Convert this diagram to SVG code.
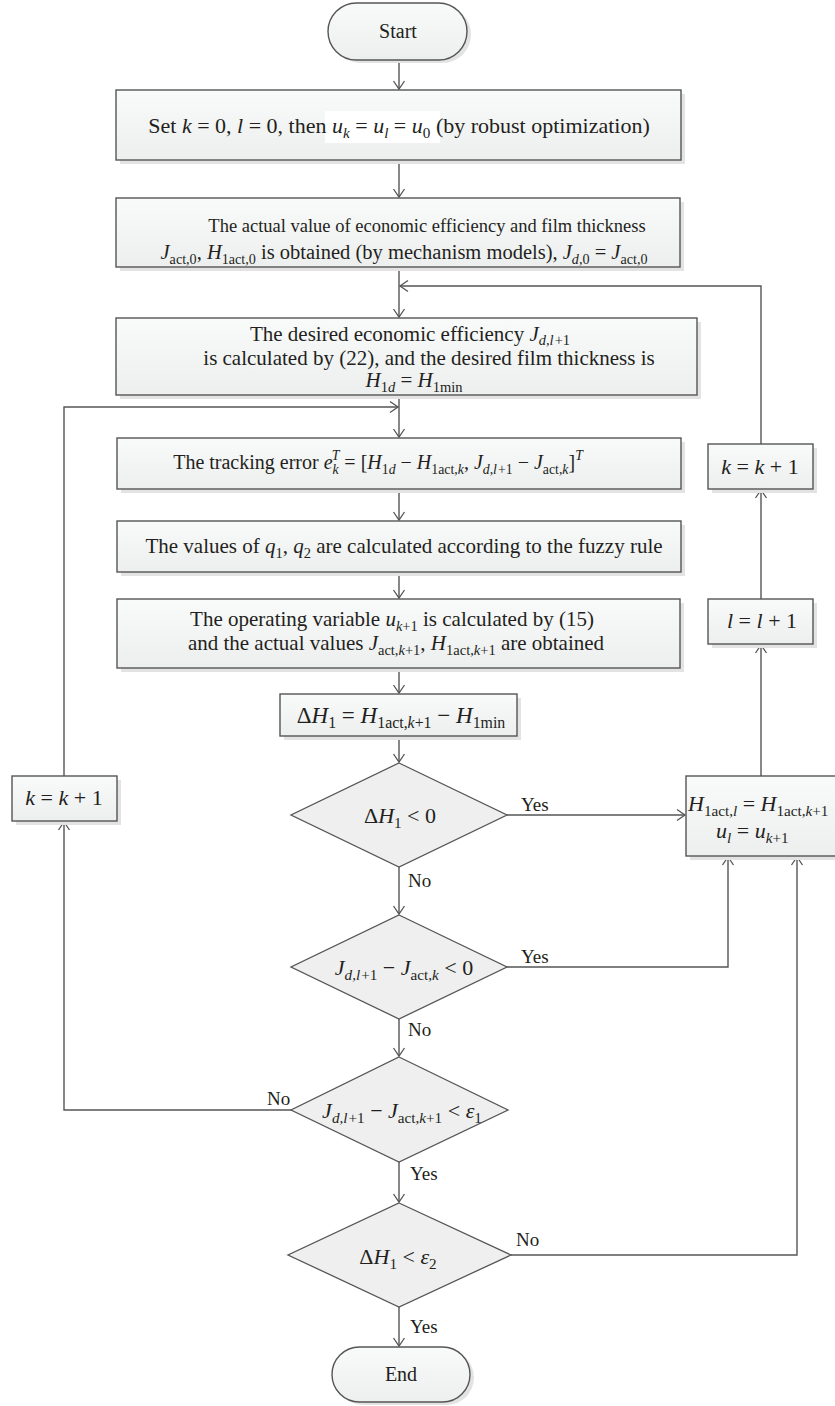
<svg xmlns="http://www.w3.org/2000/svg" width="835" height="1406" viewBox="0 0 835 1406">
<defs>
<linearGradient id="g" x1="0" y1="0" x2="0" y2="1">
<stop offset="0" stop-color="#f9fafa"/>
<stop offset="1" stop-color="#edefef"/>
</linearGradient>
<marker id="arr" markerWidth="12" markerHeight="14" refX="10" refY="7" orient="auto" markerUnits="userSpaceOnUse">
<path d="M2,1.5 L10,7 L2,12.5" fill="none" stroke="#555" stroke-width="1.3"/>
</marker>
</defs>
<style>
.box{fill:url(#g);stroke:#555;stroke-width:1.4}
.sh{fill:#e3e3e3}
.dia{fill:#efefef;stroke:#555;stroke-width:1.3}
.ln{fill:none;stroke:#555;stroke-width:1.4}
.t{font-family:"Liberation Serif",serif;font-size:18px;fill:#231f20}
.lb{font-size:19px}
.f185{font-size:18.5px}
.f20{font-size:20px}
.f205{font-size:20.5px}
.f21{font-size:21px}
.f22{font-size:22px}
.f23{font-size:23px}
.te{font-family:"Liberation Serif",serif;font-size:20px;fill:#231f20}
.i{font-style:italic}
.s{font-size:0.69em}
</style>
<rect width="835" height="1406" fill="#fff"/>

<g id="connectors">
<path class="ln" d="M399,60 V89" marker-end="url(#arr)"/>
<path class="ln" d="M399,160 V197" marker-end="url(#arr)"/>
<path class="ln" d="M399,267 V317" marker-end="url(#arr)"/>
<path class="ln" d="M761,444 V286 H400" marker-end="url(#arr)"/>
<path class="ln" d="M399,395 V437" marker-end="url(#arr)"/>
<path class="ln" d="M64,776 V407 H398" marker-end="url(#arr)"/>
<path class="ln" d="M399,489 V520" marker-end="url(#arr)"/>
<path class="ln" d="M399,572 V598" marker-end="url(#arr)"/>
<path class="ln" d="M399,668 V693" marker-end="url(#arr)"/>
<path class="ln" d="M399,736 V762" marker-end="url(#arr)"/>
<path class="ln" d="M507,815 H685" marker-end="url(#arr)"/>
<path class="ln" d="M399,867 V914" marker-end="url(#arr)"/>
<path class="ln" d="M507,967 H728 V857" marker-end="url(#arr)"/>
<path class="ln" d="M399,1019 V1056" marker-end="url(#arr)"/>
<path class="ln" d="M291,1110 H64 V822" marker-end="url(#arr)"/>
<path class="ln" d="M399,1162 V1202" marker-end="url(#arr)"/>
<path class="ln" d="M511,1255 H797 V857" marker-end="url(#arr)"/>
<path class="ln" d="M399,1307 V1346" marker-end="url(#arr)"/>
<path class="ln" d="M761,776 V645" marker-end="url(#arr)"/>
<path class="ln" d="M761,599 V490" marker-end="url(#arr)"/>
<text class="t lb" x="521" y="811">Yes</text>
<text class="t lb" x="408" y="887">No</text>
<text class="t lb" x="521" y="963">Yes</text>
<text class="t lb" x="408" y="1036">No</text>
<text class="t lb" x="267" y="1105">No</text>
<text class="t lb" x="410" y="1180">Yes</text>
<text class="t lb" x="516" y="1246">No</text>
<text class="t lb" x="410" y="1333">Yes</text>
</g>

<g id="start">
<rect class="sh" x="332" y="6" width="139" height="57" rx="28.5"/>
<rect class="box" x="328" y="3" width="139" height="57" rx="28.5"/>
<text class="te" x="398" y="38" text-anchor="middle">Start</text>
</g>

<g id="init">
<rect class="sh" x="120" y="94" width="565" height="70"/>
<rect class="box" x="116" y="90" width="565" height="70"/>
<rect x="325" y="111" width="115" height="32" fill="#fff"/>
<text class="t f22" x="399" y="133" text-anchor="middle">Set <tspan class="i">k</tspan> = 0, <tspan class="i">l</tspan> = 0, then <tspan class="i">u</tspan><tspan class="s i" dy="5">k</tspan><tspan dy="-5"> = </tspan><tspan class="i">u</tspan><tspan class="s i" dy="5">l</tspan><tspan dy="-5"> = </tspan><tspan class="i">u</tspan><tspan class="s" dy="5">0</tspan><tspan dy="-5"> (by robust optimization)</tspan></text>
</g>

<g id="actual">
<rect class="sh" x="120" y="202" width="564" height="69"/>
<rect class="box" x="116" y="198" width="564" height="69"/>
<text class="t f185" x="427" y="232" text-anchor="middle">The actual value of economic efficiency and film thickness</text>
<text class="t f205" x="404" y="259" text-anchor="middle"><tspan class="i">J</tspan><tspan class="s" dy="5">act,0</tspan><tspan dy="-5">, </tspan><tspan class="i">H</tspan><tspan class="s" dy="5">1act,0</tspan><tspan dy="-5"> is obtained (by mechanism models), </tspan><tspan class="i">J</tspan><tspan class="s i" dy="5">d</tspan><tspan class="s">,0</tspan><tspan dy="-5"> = </tspan><tspan class="i">J</tspan><tspan class="s" dy="5">act,0</tspan></text>
</g>

<g id="desired">
<rect class="sh" x="120" y="322" width="581" height="77"/>
<rect class="box" x="116" y="318" width="581" height="77"/>
<text class="t f21" x="410" y="341" text-anchor="middle">The desired economic efficiency <tspan class="i">J</tspan><tspan class="s i" dy="4">d,l</tspan><tspan class="s" dx="1">+1</tspan></text>
<text class="t f21" x="429" y="365" text-anchor="middle">is calculated by (22), and the desired film thickness is</text>
<text class="t f21" x="414" y="387" text-anchor="middle"><tspan class="i">H</tspan><tspan class="s" dy="5">1</tspan><tspan class="s i">d</tspan><tspan dy="-5"> = </tspan><tspan class="i">H</tspan><tspan class="s" dy="5">1min</tspan></text>
</g>

<g id="tracking">
<rect class="sh" x="121" y="442" width="564" height="51"/>
<rect class="box" x="117" y="438" width="564" height="51"/>
<text class="t f20" x="378" y="469" text-anchor="middle">The tracking error <tspan class="i">e</tspan><tspan class="s i" dy="5">k</tspan><tspan class="s i" dx="-7" dy="-14">T</tspan><tspan dy="9"> = [</tspan><tspan class="i">H</tspan><tspan class="s" dy="5">1</tspan><tspan class="s i">d</tspan><tspan dy="-5"> − </tspan><tspan class="i">H</tspan><tspan class="s" dy="5">1act,</tspan><tspan class="s i">k</tspan><tspan dy="-5">, </tspan><tspan class="i">J</tspan><tspan class="s i" dy="5">d,l</tspan><tspan class="s" dx="1">+1</tspan><tspan dy="-5"> − </tspan><tspan class="i">J</tspan><tspan class="s" dy="5">act,</tspan><tspan class="s i">k</tspan><tspan dy="-5">]</tspan><tspan class="s i" dy="-9">T</tspan></text>
</g>

<g id="fuzzy">
<rect class="sh" x="121" y="525" width="564" height="51"/>
<rect class="box" x="117" y="521" width="564" height="51"/>
<text class="t f21" x="404" y="553" text-anchor="middle">The values of <tspan class="i">q</tspan><tspan class="s" dy="5">1</tspan><tspan dy="-5">, </tspan><tspan class="i">q</tspan><tspan class="s" dy="5">2</tspan><tspan dy="-5"> are calculated according to the fuzzy rule</tspan></text>
</g>

<g id="operating">
<rect class="sh" x="121" y="603" width="563" height="69"/>
<rect class="box" x="117" y="599" width="563" height="69"/>
<text class="t f21" x="392" y="626" text-anchor="middle">The operating variable <tspan class="i">u</tspan><tspan class="s i" dy="5">k</tspan><tspan class="s">+1</tspan><tspan dy="-5"> is calculated by (15)</tspan></text>
<text class="t f21" x="396" y="650" text-anchor="middle">and the actual values <tspan class="i">J</tspan><tspan class="s" dy="5">act,</tspan><tspan class="s i">k</tspan><tspan class="s">+1</tspan><tspan dy="-5">, </tspan><tspan class="i">H</tspan><tspan class="s" dy="5">1act,</tspan><tspan class="s i">k</tspan><tspan class="s">+1</tspan><tspan dy="-5"> are obtained</tspan></text>
</g>

<g id="deltaH">
<rect class="sh" x="284" y="698" width="237" height="42"/>
<rect class="box" x="280" y="694" width="237" height="42"/>
<text class="t f23" x="401" y="723" text-anchor="middle">Δ<tspan class="i">H</tspan><tspan class="s" dy="5">1</tspan><tspan dy="-5"> = </tspan><tspan class="i">H</tspan><tspan class="s" dy="5">1act,</tspan><tspan class="s i">k</tspan><tspan class="s">+1</tspan><tspan dy="-5"> − </tspan><tspan class="i">H</tspan><tspan class="s" dy="5">1min</tspan></text>
</g>

<g id="d1">
<polygon class="dia" points="399,763 507,815 399,867 291,815"/>
<text class="t f22" x="400" y="823" text-anchor="middle">Δ<tspan class="i">H</tspan><tspan class="s" dy="5">1</tspan><tspan dy="-5"> &lt; 0</tspan></text>
</g>

<g id="d2">
<polygon class="dia" points="399,915 507,967 399,1019 291,967"/>
<text class="t f22" x="404" y="975" text-anchor="middle"><tspan class="i">J</tspan><tspan class="s i" dy="5">d,l</tspan><tspan class="s" dx="1">+1</tspan><tspan dy="-5"> − </tspan><tspan class="i">J</tspan><tspan class="s" dy="5">act,</tspan><tspan class="s i">k</tspan><tspan dy="-5"> &lt; 0</tspan></text>
</g>

<g id="d3">
<polygon class="dia" points="399,1057 508,1110 399,1162 291,1110"/>
<text class="t f22" x="402" y="1118" text-anchor="middle"><tspan class="i">J</tspan><tspan class="s i" dy="5">d,l</tspan><tspan class="s" dx="1">+1</tspan><tspan dy="-5"> − </tspan><tspan class="i">J</tspan><tspan class="s" dy="5">act,</tspan><tspan class="s i">k</tspan><tspan class="s">+1</tspan><tspan dy="-5"> &lt; </tspan><tspan class="i">ε</tspan><tspan class="s" dy="5">1</tspan></text>
</g>

<g id="d4">
<polygon class="dia" points="399,1203 511,1255 399,1307 288,1255"/>
<text class="t f22" x="398" y="1264" text-anchor="middle">Δ<tspan class="i">H</tspan><tspan class="s" dy="5">1</tspan><tspan dy="-5"> &lt; </tspan><tspan class="i">ε</tspan><tspan class="s" dy="5">2</tspan></text>
</g>

<g id="end">
<rect class="sh" x="336" y="1350" width="138" height="55" rx="27.5"/>
<rect class="box" x="332" y="1347" width="138" height="55" rx="27.5"/>
<text class="te" x="401" y="1381" text-anchor="middle">End</text>
</g>

<g id="kleft">
<rect class="sh" x="16" y="780" width="105" height="45"/>
<rect class="box" x="12" y="776" width="105" height="45"/>
<text class="t f22" x="64" y="805" text-anchor="middle"><tspan class="i">k</tspan> = <tspan class="i">k</tspan> + 1</text>
</g>

<g id="kright">
<rect class="sh" x="712" y="448" width="105" height="45"/>
<rect class="box" x="708" y="444" width="105" height="45"/>
<text class="t f22" x="760" y="474" text-anchor="middle"><tspan class="i">k</tspan> = <tspan class="i">k</tspan> + 1</text>
</g>

<g id="lbox">
<rect class="sh" x="712" y="603" width="105" height="45"/>
<rect class="box" x="708" y="599" width="105" height="45"/>
<text class="t f22" x="762" y="628" text-anchor="middle"><tspan class="i">l</tspan> = <tspan class="i">l</tspan> + 1</text>
</g>

<g id="update">
<rect class="sh" x="690" y="780" width="160" height="80"/>
<rect class="box" x="686" y="776" width="160" height="80"/>
<text class="t f22" x="688" y="811"><tspan class="i">H</tspan><tspan class="s" dy="5">1act,</tspan><tspan class="s i">l</tspan><tspan dy="-5"> = </tspan><tspan class="i">H</tspan><tspan class="s" dy="5">1act,</tspan><tspan class="s i">k</tspan><tspan class="s">+1</tspan></text>
<text class="t f22" x="716" y="838"><tspan class="i">u</tspan><tspan class="s i" dy="5">l</tspan><tspan dy="-5"> = </tspan><tspan class="i">u</tspan><tspan class="s i" dy="5">k</tspan><tspan class="s">+1</tspan></text>
</g>
</svg>
